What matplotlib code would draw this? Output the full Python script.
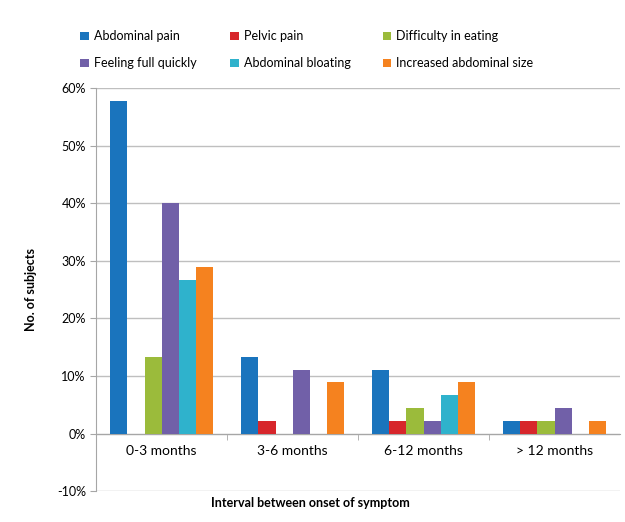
import numpy as np
import matplotlib.pyplot as plt
from matplotlib.ticker import FuncFormatter, FixedLocator

plt.rcParams['font.family'] = ['Lato', 'DejaVu Sans']

intervals = ['0-3 months', '3-6 months', '6-12 months', '> 12 months']
symptoms = ['Abdominal pain', 'Pelvic pain', 'Difficulty in eating',
            'Feeling full quickly', 'Abdominal bloating', 'Increased abdominal size']

# share of subjects (%) per interval
abdominal_pain = [57.8, 13.3, 11.1, 2.2]
pelvic_pain = [0.0, 2.2, 2.2, 2.2]
difficulty_eating = [13.3, 0.0, 4.4, 2.2]
feeling_full = [40.0, 11.1, 2.2, 4.4]
abdominal_bloating = [26.7, 0.0, 6.7, 0.0]
increased_size = [28.9, 8.9, 8.9, 2.2]

series = [abdominal_pain, pelvic_pain, difficulty_eating,
          feeling_full, abdominal_bloating, increased_size]
colors = ['#1a74bd', '#d7262b', '#9bbb3b', '#7160a8', '#2fb2cc', '#f5821f']

fig = plt.figure(figsize=(6.25, 5.22), dpi=100)
ax = fig.add_axes([0.154, 0.059, 0.838, 0.772])

x = np.arange(len(intervals))
w = 0.131
bars = []
for i, (vals, c, name) in enumerate(zip(series, colors, symptoms)):
    b = ax.bar(x + (i - 2.5) * w, np.array(vals) / 100, width=w, color=c,
               label=name, zorder=3)
    bars.append(b)

ax.set_xlim(-0.5, 3.5)
ax.set_ylim(-0.1, 0.6)
ax.set_yticks(np.arange(-0.1, 0.61, 0.1))
ax.yaxis.set_major_formatter(FuncFormatter(lambda v, p: f'{v*100:.0f}%'))
ax.grid(axis='y', color='#bfbfbf', linewidth=1, zorder=0)

ax.set_xticks(x)
ax.set_xticklabels(intervals, fontsize=9)
ax.xaxis.set_minor_locator(FixedLocator([0.5, 1.5, 2.5]))
ax.tick_params(axis='x', which='major', length=0, pad=8)
ax.tick_params(axis='x', which='minor', length=4, color='#a6a6a6')
ax.tick_params(axis='y', labelsize=9, length=4, color='#a6a6a6', direction='out')

for s in ['top', 'right']:
    ax.spines[s].set_visible(False)
ax.spines['bottom'].set_position(('data', 0))
ax.spines['bottom'].set_color('#a6a6a6')
ax.spines['left'].set_color('#a6a6a6')

ax.set_ylabel('No. of subjects', fontsize=9, fontweight='bold', labelpad=14)
fig.text(0.496, 0.047, 'Interval between onset of symptom',
         ha='center', va='top', fontsize=9, fontweight='bold')

# one legend per column, entries run row by row across the top
col_x = [0.128, 0.368, 0.612]
for j, cx in enumerate(col_x):
    idx = [j, j + 3]
    fig.legend([bars[k] for k in idx], [symptoms[k] for k in idx],
               loc='upper left', bbox_to_anchor=(cx, 0.942), frameon=False,
               fontsize=9, handlelength=0.7, handleheight=0.7, handletextpad=0.4,
               labelspacing=1.2, borderpad=0, borderaxespad=0)

fig.savefig('out.png', dpi=100)
